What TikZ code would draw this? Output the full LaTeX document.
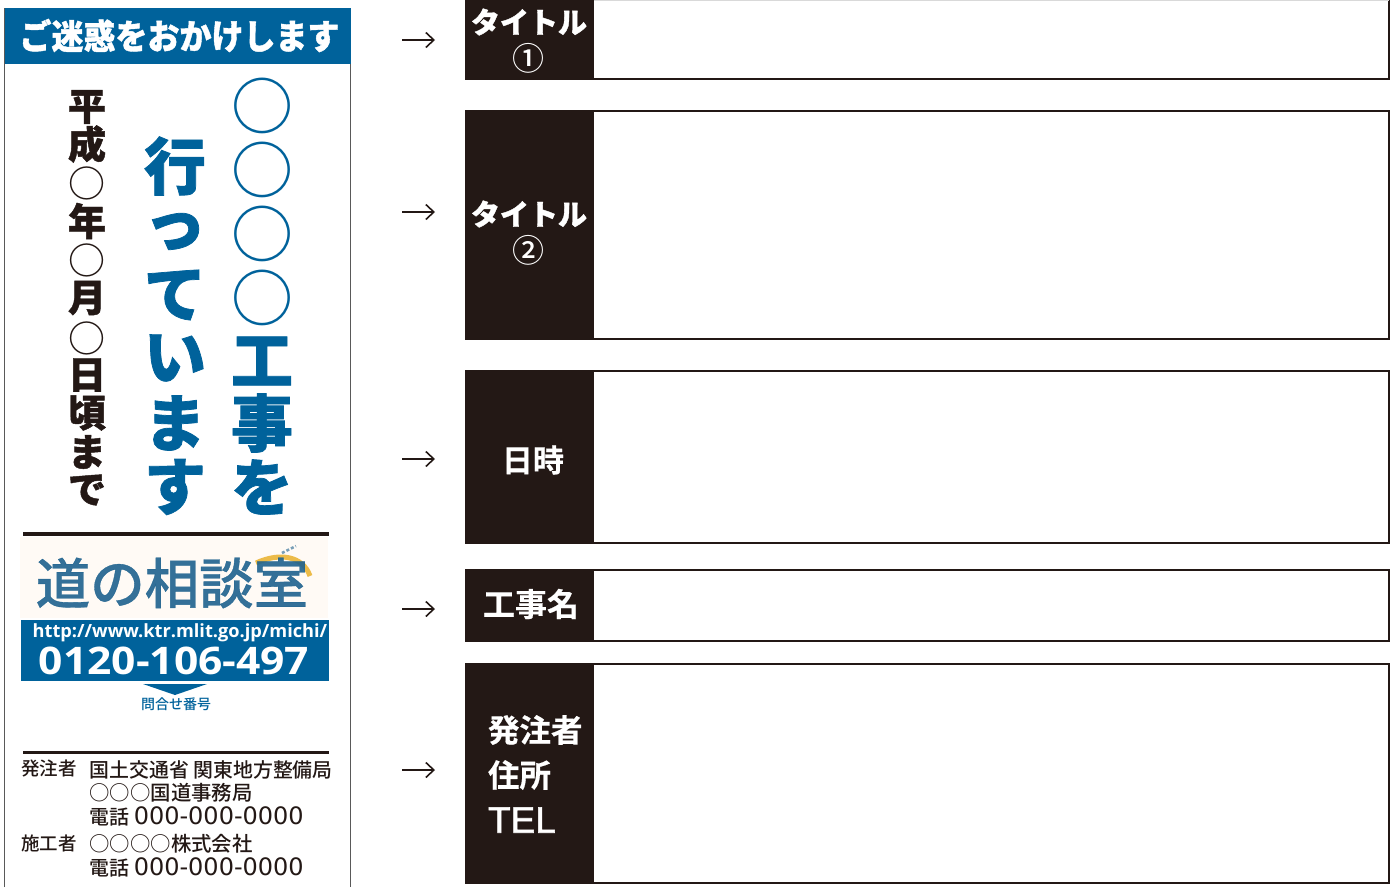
\documentclass[tikz,border=0pt]{standalone}
\usepackage{fontspec}
\usetikzlibrary{arrows.meta}
\setmainfont{Open Sans}
\newfontfamily\cjk{Noto Sans CJK JP Medium}
\newfontfamily\cjkbold[FakeBold=0.5]{Noto Sans CJK JP Bold}
\newfontfamily\cjklogo[FakeBold=0.6]{Noto Sans CJK JP Medium}
\newfontfamily\cjkheavy[FakeBold=1.2]{Noto Sans CJK JP Black}
\newfontfamily\digitfont{DejaVu Sans}
\newfontfamily\telfont[FakeBold=1.5]{Liberation Sans}
\definecolor{signblue}{RGB}{0,98,155}
\definecolor{ink}{RGB}{35,24,21}
\definecolor{logoblue}{RGB}{30,98,142}
\newcommand{\fs}[1]{\fontsize{#1}{#1}\selectfont}
\newcommand{\phone}{電話 {\digitfont\fs{24}000-000-0000}}
\tikzset{
  txt/.style={inner sep=0pt,outer sep=0pt},
  bigblue/.style={txt,text=signblue,font=\cjkheavy\fs{62}},
  bigcirc/.style={txt,text=signblue,font=\cjk\fs{62}},
  datechar/.style={txt,text=ink,font=\cjkheavy\fs{38}},
  datecirc/.style={txt,text=ink,font=\cjk\fs{37}},
  rulebar/.style={line width=3.5pt,ink},
  contact/.style={txt,anchor=west,text=ink,font=\cjk\fs{19.9}},
  labelbox/.style={txt,draw=none,fill=ink,anchor=north west},
  valuebox/.style={txt,draw=ink,line width=2.4pt,fill=white,anchor=north west},
  lab/.style={txt,text=white,font=\cjkbold\fs{31}},
  arrowline/.style={line width=1.6pt,ink,-{Straight Barb[length=8pt,width=15pt,line width=1.6pt]}},
}
\begin{document}
\begin{tikzpicture}[x=1pt,y=-1pt]
\useasboundingbox (0,0) rectangle (1392,887);
% sign
\draw[line width=1.3pt,black!65] (4.5,887) -- (4.5,8.5) -- (350.5,8.5) -- (350.5,887);
\node[txt,fill=signblue,minimum width=346.5pt,minimum height=56pt,anchor=north west] (head) at (4.5,8) {};
\node[txt,text=white,font=\cjkheavy\fs{32}] (headt) at (179.5,35.5) {\scalebox{1}[1.08]{ご迷惑をおかけします}};
% blue columns
\foreach \n/\y in {a/106,b/170,c/234,d/298} \node[bigcirc] (big\n) at (262,\y) {○};
\node[bigblue] (k1) at (262,361) {工};
\node[bigblue] (k2) at (262,423) {事};
\node[bigblue] (k3) at (262,487) {を};
\node[bigblue] (m1) at (175,166) {行};
\node[bigblue] (m2) at (175,231.5) {っ};
\node[bigblue] (m3) at (175,295) {て};
\node[bigblue] (m4) at (175,358) {い};
\node[bigblue] (m5) at (175,423) {ま};
\node[bigblue] (m6) at (175,487) {す};
% date column
\node[datechar] (d1) at (87,107) {平};
\node[datechar] (d2) at (87,144) {成};
\node[datecirc] (d3) at (87,183) {○};
\node[datechar] (d4) at (87,221) {年};
\node[datecirc] (d5) at (87,260) {○};
\node[datechar] (d6) at (87,298) {月};
\node[datecirc] (d7) at (87,338) {○};
\node[datechar] (d8) at (87,375) {日};
\node[datechar] (d9) at (87,413) {頃};
\node[datechar] (d10) at (87,452) {ま};
\node[datechar] (d11) at (87,490) {で};
% rules
\draw[rulebar] (23,534) -- (329,534);
\draw[rulebar] (23,752.5) -- (329,752.5);
% logo
\fill[orange!4] (20,537) rectangle (328,618);
\draw[line width=5pt,orange!60!yellow!90!black,opacity=.7] (256,563) .. controls (280,552) and (303,556) .. (310,576);
\draw[line width=2.5pt,dash pattern=on 3pt off 2pt,logoblue,opacity=.6] (282,553) -- (296,546);
\node[txt,text=logoblue,font=\cjklogo\fs{54.5},opacity=.9] (logo) at (172,583) {道の相談室};
% contact block
\node[txt,fill=signblue,minimum width=308pt,minimum height=61pt,anchor=north west] (tel) at (21,620) {};
\node[txt,text=white,font=\bfseries\fs{18.2}] (url) at (180,633) {http://www.ktr.mlit.go.jp/michi/};
\node[txt,text=white,font=\bfseries\fs{38}] (num) at (174,661) {\scalebox{1.12}[1]{0120-106-497}};
\fill[signblue] (143,684) -- (207,684) -- (175,695) -- cycle;
\node[txt,text=signblue,font=\cjk\fs{14}] (q) at (176,704) {問合せ番号};
% owners
\node[contact,font=\cjk\fs{18.5}] (o1) at (21,768) {発注者};
\node[contact] (o2) at (89.5,770) {国土交通省 関東地方整備局};
\node[contact,font=\cjk\fs{20.4}] (o3) at (89.5,793) {○○○国道事務局};
\node[contact] (o4) at (89.5,816) {\phone};
\node[contact,font=\cjk\fs{18.5}] (o5) at (21,843) {施工者};
\node[contact,font=\cjk\fs{20.4}] (o6) at (89.5,844) {○○○○株式会社};
\node[contact] (o7) at (89.5,867) {\phone};
% right panels
\foreach \n/\t/\h in {a/-3/82,b/111/228,c/371/172,d/570/71,e/664/219}{
  \node[valuebox,minimum width=796pt,minimum height=\h pt] (v\n) at (593,\t) {};
  \node[labelbox,minimum width=128.5pt,minimum height=\h pt+2pt] (l\n) at (465,\t-1) {};
}
\draw[line width=1pt,black!15] (594,0.5) -- (1389,0.5);
\node[lab,font=\cjkheavy\fs{29}] (t1) at (529,22) {タイトル};
\node[lab,font=\cjk\fs{32}] (c1) at (528.5,58) {①};
\node[lab,font=\cjkheavy\fs{29}] (t2) at (529,214) {タイトル};
\node[lab,font=\cjk\fs{32}] (c2) at (528.5,250) {②};
\node[lab] (t3) at (533,460) {日時};
\node[lab,font=\cjkbold\fs{32}] (t4) at (531,604) {工事名};
\node[lab,anchor=west,font=\cjkbold\fs{31.5}] (t5) at (488,730) {発注者};
\node[lab,anchor=west,font=\cjkbold\fs{31.5}] (t6) at (488,775) {住所};
\node[lab,anchor=west,font=\telfont\fs{37}] (t7) at (488,820) {TEL};
% arrows
\foreach \n/\y in {a/40,b/212,c/459,d/609,e/770}{
  \coordinate (s\n) at (402,\y);
  \coordinate (e\n) at (435,\y);
  \draw[arrowline] (s\n) -- (e\n);
}
\end{tikzpicture}
\end{document}
